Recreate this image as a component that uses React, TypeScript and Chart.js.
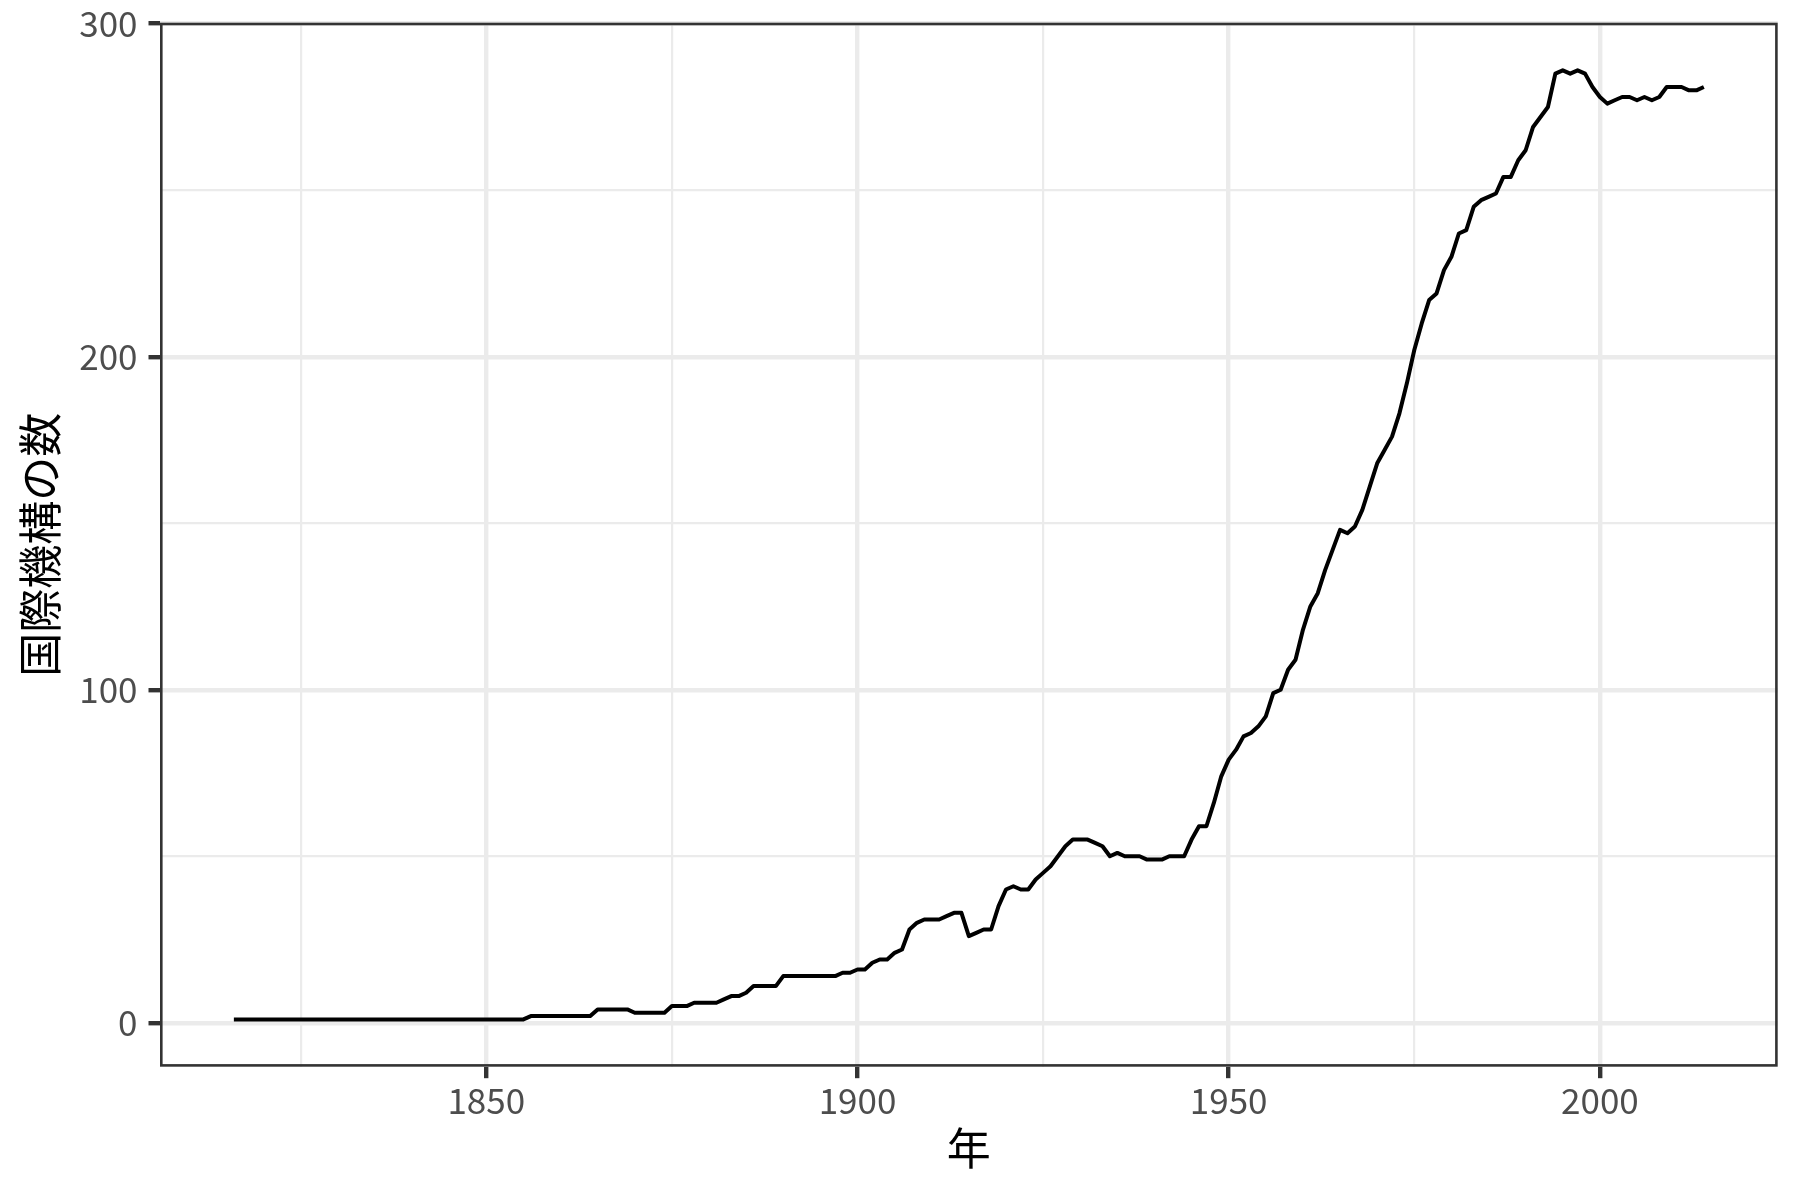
import { useEffect, useRef } from "react";
import { Chart, registerables } from "chart.js";

Chart.register(...registerables);

// ---- data ----
const FIRST_YEAR = 1816;
const counts: number[] = [
  // 1816-1855
  1, 1, 1, 1, 1, 1, 1, 1, 1, 1, 1, 1, 1, 1, 1, 1, 1, 1, 1, 1,
  1, 1, 1, 1, 1, 1, 1, 1, 1, 1, 1, 1, 1, 1, 1, 1, 1, 1, 1, 1,
  // 1856-1864
  2, 2, 2, 2, 2, 2, 2, 2, 2,
  // 1865-1874
  4, 4, 4, 4, 4, 3, 3, 3, 3, 3,
  // 1875-1889
  5, 5, 5, 6, 6, 6, 6, 7, 8, 8, 9, 11, 11, 11, 11,
  // 1890-1906
  14, 14, 14, 14, 14, 14, 14, 14, 15, 15, 16, 16, 18, 19, 19, 21, 22,
  // 1907-1920
  28, 30, 31, 31, 31, 32, 33, 33, 26, 27, 28, 28, 35, 40,
  // 1921-1944
  41, 40, 40, 43, 45, 47, 50, 53, 55, 55, 55, 54, 53, 50, 51, 50, 50, 50, 49, 49, 49, 50, 50, 50,
  // 1945-1970
  55, 59, 59, 66, 74, 79, 82, 86, 87, 89, 92, 99, 100, 106, 109, 118, 125, 129, 136, 142, 148, 147, 149, 154, 161, 168,
  // 1971-1993
  172, 176, 183, 192, 202, 210, 217, 219, 226, 230, 237, 238, 245, 247, 248, 249, 254, 254, 259, 262, 269, 272, 275,
  // 1994-2014
  285, 286, 285, 286, 285, 281, 278, 276, 277, 278, 278, 277, 278, 277, 278, 281, 281, 281, 280, 280, 281,
];
const years: number[] = counts.map((_, i) => FIRST_YEAR + i);

const xGridTicks = [1825, 1850, 1875, 1900, 1925, 1950, 1975, 2000];
const xLabelTicks = [1850, 1900, 1950, 2000];
const yGridTicks = [0, 50, 100, 150, 200, 250, 300];
const yLabelTicks = [0, 100, 200, 300];
const xTitle = "年";
const yTitle = "国際機構の数";

const FONT = '"Noto Sans CJK JP", "Noto Sans", sans-serif';

const panelBorder = {
  id: "panelBorder",
  afterDatasetsDraw(chart: any) {
    const { ctx, chartArea } = chart;
    const { left, top, right, bottom } = chartArea;
    const w = 2.6;
    ctx.save();
    ctx.strokeStyle = "#333333";
    ctx.lineWidth = w;
    ctx.strokeRect(left + w / 2, top + w / 2, right - left - w, bottom - top - w);
    ctx.restore();
  },
};

export default function App() {
  const canvasRef = useRef<HTMLCanvasElement | null>(null);

  useEffect(() => {
    if (!canvasRef.current) return;
    const chart = new Chart(canvasRef.current, {
      type: "line",
      data: {
        datasets: [
          {
            data: years.map((y, i) => ({ x: y, y: counts[i] })),
            borderColor: "#000000",
            borderWidth: 4,
            pointRadius: 0,
            tension: 0,
            borderJoinStyle: "round",
            borderCapStyle: "butt",
            fill: false,
          },
        ],
      },
      options: {
        responsive: false,
        animation: false,
        devicePixelRatio: 1,
        layout: { padding: { top: 22.7, right: 22.3, left: 0, bottom: 0 } },
        plugins: { legend: { display: false }, tooltip: { enabled: false } },
        scales: {
          x: {
            type: "linear",
            min: 1806.05,
            max: 2023.95,
            afterBuildTicks: (s: any) => {
              s.ticks = xGridTicks.map((v) => ({ value: v }));
            },
            afterFit: (s: any) => {
              s.height = 133.3;
              s.paddingLeft = 0;
              s.paddingRight = 0;
            },
            ticks: {
              autoSkip: false,
              maxRotation: 0,
              padding: 2,
              color: "#4D4D4D",
              font: { family: FONT, size: 35 },
              callback: (v: any) => (xLabelTicks.includes(Number(v)) ? String(v) : ""),
            },
            grid: {
              color: "#EBEBEB",
              lineWidth: (c: any) => (xLabelTicks.includes(c.tick?.value) ? 4.4 : 2.2),
              tickLength: 11.5,
              tickWidth: 4.4,
              tickColor: (c: any) => (xLabelTicks.includes(c.tick?.value) ? "#333333" : "rgba(0,0,0,0)"),
            },
            border: { display: false },
            title: {
              display: true,
              text: xTitle,
              color: "#000000",
              font: { family: FONT, size: 44 },
              padding: { top: 0, bottom: 25.6 },
            },
          },
          y: {
            type: "linear",
            min: -13.2,
            max: 300.3,
            afterBuildTicks: (s: any) => {
              s.ticks = yGridTicks.map((v) => ({ value: v }));
            },
            afterFit: (s: any) => {
              s.width = 160;
              s.paddingTop = 0;
              s.paddingBottom = 0;
            },
            ticks: {
              autoSkip: false,
              padding: 11,
              color: "#4D4D4D",
              font: { family: FONT, size: 35 },
              callback: (v: any) => (yLabelTicks.includes(Number(v)) ? String(v) : ""),
            },
            grid: {
              color: "#EBEBEB",
              lineWidth: (c: any) => (yLabelTicks.includes(c.tick?.value) ? 4.4 : 2.2),
              tickLength: 11.5,
              tickWidth: 4.4,
              tickColor: (c: any) => (yLabelTicks.includes(c.tick?.value) ? "#333333" : "rgba(0,0,0,0)"),
            },
            border: { display: false },
            title: {
              display: true,
              text: yTitle,
              color: "#000000",
              font: { family: FONT, size: 44 },
              padding: { top: 13.6, bottom: 0 },
            },
          },
        },
      },
      plugins: [panelBorder],
    } as any);
    return () => chart.destroy();
  }, []);

  return (
    <div style={{ position: "absolute", left: 0, top: 0, width: 1800, height: 1200, background: "#ffffff" }}>
      <canvas ref={canvasRef} width={1800} height={1200} style={{ width: 1800, height: 1200, display: "block" }} />
    </div>
  );
}
